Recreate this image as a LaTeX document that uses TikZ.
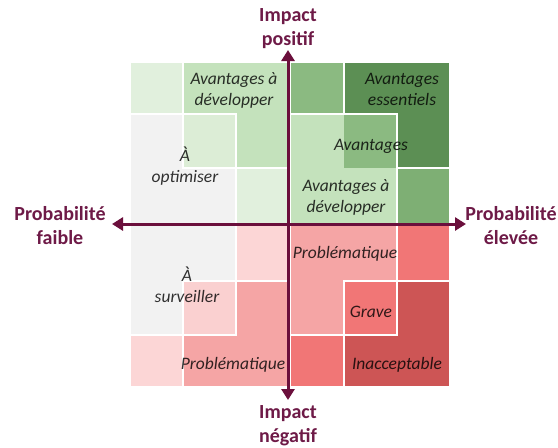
\documentclass[tikz,border=0pt]{standalone}
\usepackage{fontspec}
\setmainfont{Carlito}
\usetikzlibrary{arrows.meta}
\definecolor{axiscol}{HTML}{6B0F3C}
\definecolor{labelcol}{HTML}{6E1A47}
\definecolor{gPale}{HTML}{E1F0DD}
\definecolor{gPaleB}{HTML}{DCEDD6}
\definecolor{gLight}{HTML}{C4E2BC}
\definecolor{gMed}{HTML}{8BBA81}
\definecolor{gMedB}{HTML}{7EAF74}
\definecolor{gDark}{HTML}{5C8F54}
\definecolor{greyc}{HTML}{F2F2F2}
\definecolor{rPale}{HTML}{FCD6D6}
\definecolor{rPaleB}{HTML}{FAD0D0}
\definecolor{rMed}{HTML}{F5A5A5}
\definecolor{rRed}{HTML}{F17676}
\definecolor{rDark}{HTML}{CD5555}
\tikzset{
  cellbox/.style={draw=white, line width=1.8pt},
  axisline/.style={draw=axiscol, line width=3pt, {Triangle[width=13pt,length=11pt]}-{Triangle[width=13pt,length=11pt]}},
  axislabel/.style={text=labelcol, align=center, inner sep=0pt, font=\fontsize{20}{24}\selectfont\bfseries},
  celllabel/.style={text=black, text opacity=0.8, align=center, inner sep=0pt, font=\fontsize{17.5}{21}\selectfont\itshape}
}
\begin{document}
\begin{tikzpicture}[x=1pt,y=-1pt]
\useasboundingbox[fill=white] (0,0) rectangle (558,448);

% ---- top-left quadrant
\fill[cellbox, fill=gPale] (130,62) rectangle (183,114);
\fill[cellbox, fill=gLight] (183,62) -- (290,62) -- (290,168) -- (236,168) -- (236,114) -- (183,114) -- cycle;
\fill[cellbox, fill=gPaleB] (183,114) rectangle (236,168);
\fill[cellbox, fill=greyc] (130,114) -- (183,114) -- (183,168) -- (236,168) -- (236,224) -- (130,224) -- cycle;
\fill[cellbox, fill=gPale] (236,168) rectangle (290,224);

% ---- top-right quadrant
\fill[cellbox, fill=gMed] (290,62) rectangle (344,114);
\fill[cellbox, fill=gDark] (344,62) rectangle (450,168);
\fill[cellbox, fill=gLight] (290,114) rectangle (397,224);
\fill[fill=gMed] (344,115) rectangle (396,168);
\fill[cellbox, fill=gMedB] (397,168) rectangle (450,224);

% ---- bottom-left quadrant
\fill[cellbox, fill=greyc] (130,224) -- (236,224) -- (236,281) -- (183,281) -- (183,335) -- (130,335) -- cycle;
\fill[cellbox, fill=rPale] (236,224) rectangle (290,281);
\fill[cellbox, fill=rMed] (236,281) -- (290,281) -- (290,387) -- (183,387) -- (183,335) -- (236,335) -- cycle;
\fill[cellbox, fill=rPaleB] (183,281) rectangle (236,335);
\fill[cellbox, fill=rPale] (130,335) rectangle (183,387);

% ---- bottom-right quadrant
\fill[cellbox, fill=rMed] (290,224) -- (397,224) -- (397,281) -- (344,281) -- (344,335) -- (290,335) -- cycle;
\fill[cellbox, fill=rRed] (397,224) rectangle (450,281);
\fill[cellbox, fill=rDark] (344,281) rectangle (450,387);
\fill[cellbox, fill=rRed] (344,281) rectangle (397,335);
\fill[cellbox, fill=rRed] (290,335) rectangle (344,387);

% ---- axes
\coordinate (left) at (112,224);
\coordinate (right) at (466,224);
\coordinate (top) at (288,50);
\coordinate (bottom) at (288,400);
\draw[axisline] (left) -- (right);
\draw[axisline] (top) -- (bottom);

% ---- axis labels
\node[axislabel] (lblTop) at (288,29) {Impact\\positif};
\node[axislabel] (lblBottom) at (288,426) {Impact\\négatif};
\node[axislabel] (lblLeft) at (60,226) {Probabilité\\faible};
\node[axislabel] (lblRight) at (511,226) {Probabilité\\élevée};

% ---- cell labels
\node[celllabel] (c1) at (234,90) {Avantages à\\développer};
\node[celllabel] (c2) at (185,166) {À\\optimiser};
\node[celllabel] (c3) at (402,89) {Avantages\\essentiels};
\node[celllabel] (c4) at (371,146) {Avantages};
\node[celllabel] (c5) at (346,197) {Avantages à\\développer};
\node[celllabel] (c6) at (187,285) {À\\surveiller};
\node[celllabel] (c7) at (345,254) {Problématique};
\node[celllabel] (c8) at (371,312) {Grave};
\node[celllabel] (c9) at (397,365) {Inacceptable};
\node[celllabel] (c10) at (233,365) {Problématique};
\end{tikzpicture}
\end{document}
